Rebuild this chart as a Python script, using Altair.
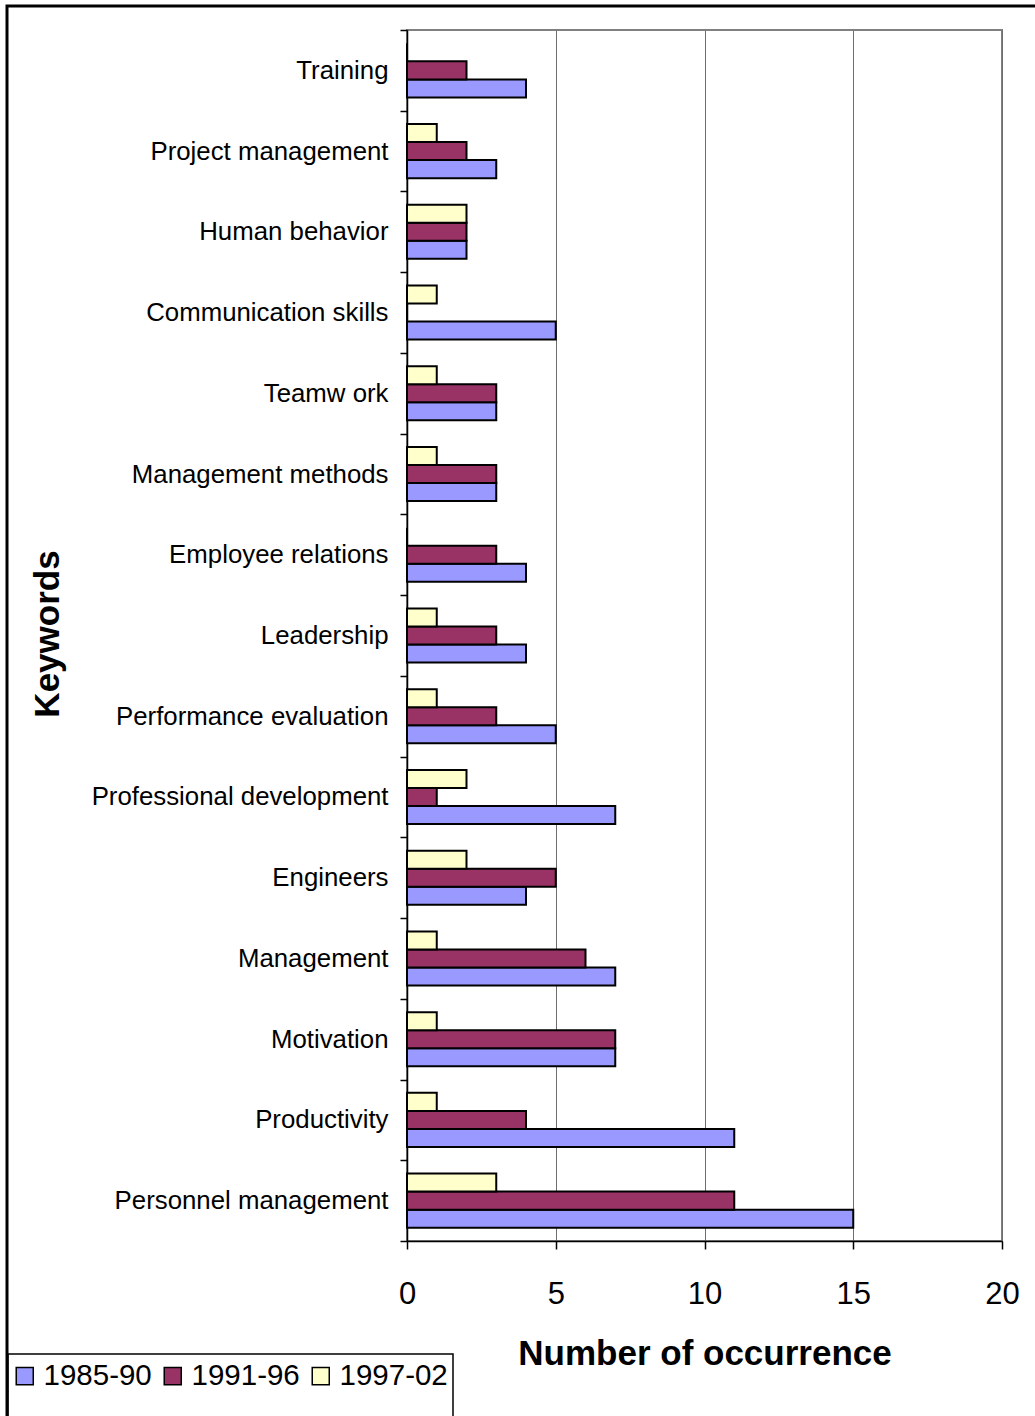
import altair as alt
import pandas as pd

# Keywords, top to bottom
keywords = [
    "Training",
    "Project management",
    "Human behavior",
    "Communication skills",
    "Teamw ork",
    "Management methods",
    "Employee relations",
    "Leadership",
    "Performance evaluation",
    "Professional development",
    "Engineers",
    "Management",
    "Motivation",
    "Productivity",
    "Personnel management",
]

periods = ["1985-90", "1991-96", "1997-02"]
counts_1985_90 = [4, 3, 2, 5, 3, 3, 4, 4, 5, 7, 4, 7, 7, 11, 15]
counts_1991_96 = [2, 2, 2, 0, 3, 3, 3, 3, 3, 1, 5, 6, 7, 4, 11]
counts_1997_02 = [0, 1, 2, 1, 1, 1, 0, 1, 1, 2, 2, 1, 1, 1, 3]
period_colors = ["#9999FF", "#993366", "#FFFFCC"]
x_ticks = [0, 5, 10, 15, 20]

rows = []
for period, counts in zip(periods, [counts_1985_90, counts_1991_96, counts_1997_02]):
    for kw, c in zip(keywords, counts):
        rows.append({"Keyword": kw, "Period": period, "Count": c})
df = pd.DataFrame(rows)

FONT = "Liberation Sans"
W, H = 595, 1211

bars = alt.Chart(df).mark_bar(stroke="black", strokeWidth=2).encode(
    x=alt.X(
        "Count:Q",
        scale=alt.Scale(domain=[0, 20], nice=False, zero=True),
        axis=alt.Axis(
            values=x_ticks,
            title="Number of occurrence",
            titleFont=FONT,
            titleFontSize=35,
            titleFontWeight="bold",
            titleColor="black",
            titleX=W / 2,
            titleY=123,
            titleAlign="center",
            titleBaseline="alphabetic",
            labelFont=FONT,
            labelFontSize=31,
            labelColor="black",
            labelPadding=30,
            labelFlush=False,
            tickSize=8,
            tickColor="black",
            tickWidth=1.5,
            domainColor="black",
            domainWidth=1.5,
            grid=True,
            gridColor="#6e6e6e",
            gridWidth=1,
        ),
    ),
    y=alt.Y(
        "Keyword:N",
        sort=keywords,
        scale=alt.Scale(paddingInner=0, paddingOuter=0),
        axis=alt.Axis(
            title="Keywords",
            titleFont=FONT,
            titleFontSize=35,
            titleFontWeight="bold",
            titleColor="black",
            titleAngle=270,
            titleX=-349,
            titleY=H / 2 - 2,
            titleAlign="center",
            titleBaseline="alphabetic",
            labelFont=FONT,
            labelFontSize=25.8,
            labelColor="black",
            labelPadding=12,
            labelLimit=400,
            tickBand="extent",
            tickSize=7,
            tickColor="black",
            tickWidth=1.5,
            domainColor="black",
            domainWidth=1.5,
            grid=False,
        ),
    ),
    yOffset=alt.YOffset(
        "Period:N",
        sort=["1997-02", "1991-96", "1985-90"],
        scale=alt.Scale(paddingInner=0, paddingOuter=0.74),
    ),
    color=alt.Color(
        "Period:N",
        scale=alt.Scale(domain=periods, range=period_colors),
        legend=alt.Legend(
            title=None,
            orient="none",
            direction="horizontal",
            legendX=-397,
            legendY=1331,
            symbolType="square",
            symbolSize=290,
            symbolStrokeColor="black",
            symbolStrokeWidth=1.5,
            labelFont=FONT,
            labelFontSize=29.5,
            labelColor="black",
            labelOffset=4,
            columnPadding=6,
            padding=0,
        ),
    ),
)

# Outer frame around the whole figure
frame = alt.Chart(alt.Data(values=[{"f": 1}])).mark_rect(
    filled=False, stroke="black", strokeWidth=3
).encode(
    x=alt.value(-400),
    x2=alt.value(700),
    y=alt.value(-24),
    y2=alt.value(1420),
)

# Box drawn around the legend
legend_box = alt.Chart(alt.Data(values=[{"f": 1}])).mark_rect(
    filled=False, stroke="black", strokeWidth=1.5
).encode(
    x=alt.value(-399),
    x2=alt.value(46),
    y=alt.value(1324),
    y2=alt.value(1430),
)

chart = (
    alt.layer(bars, frame, legend_box)
    .properties(
        width=W,
        height=H,
        autosize=alt.AutoSizeParams(type="none"),
        padding={"left": 407, "top": 30, "right": 33, "bottom": 175},
        background="white",
    )
    .configure_view(stroke="#808080", strokeWidth=2)
)

chart.save("out.html", embed_options={"renderer": "svg", "actions": False})
